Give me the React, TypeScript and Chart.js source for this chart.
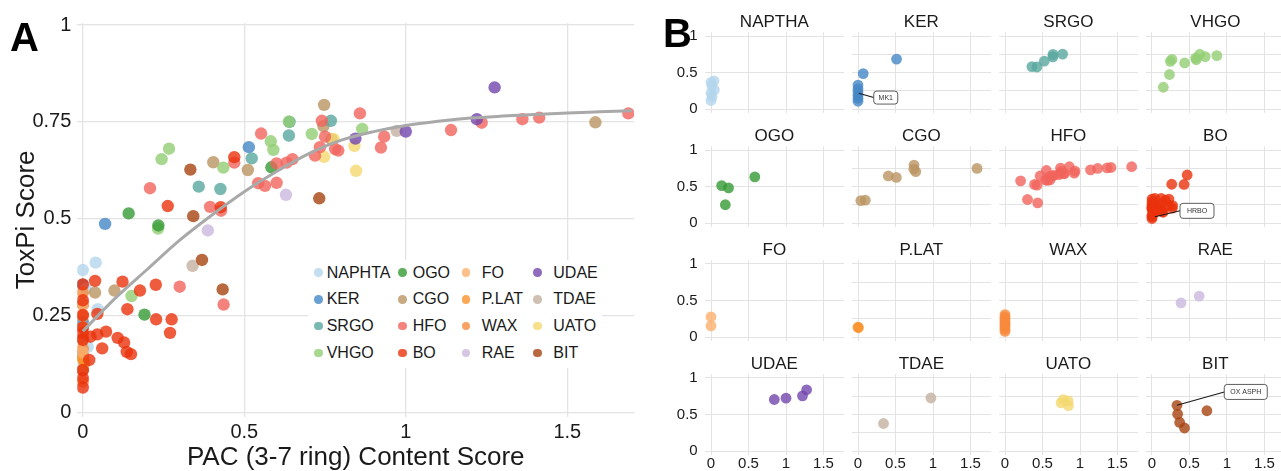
import React, { useEffect, useRef } from "react";
import { Chart, registerables } from "chart.js";
Chart.register(...registerables);

const FONT = "'Liberation Sans', Arial, Helvetica, sans-serif";
const TEXT = "#1a1a1a";
const GRID = "#e3e3e3";

// ---------- categories / colours ----------
const categories = ["NAPHTA", "KER", "SRGO", "VHGO", "OGO", "CGO", "HFO", "BO", "FO", "P.LAT", "WAX", "RAE", "UDAE", "TDAE", "UATO", "BIT"];
const facetTitles = ["NAPTHA", "KER", "SRGO", "VHGO", "OGO", "CGO", "HFO", "BO", "FO", "P.LAT", "WAX", "RAE", "UDAE", "TDAE", "UATO", "BIT"];
const pointColors = [
  "rgba(179,214,236,0.8)", "rgba(69,135,197,0.8)", "rgba(89,166,159,0.8)", "rgba(146,206,116,0.8)",
  "rgba(53,154,53,0.8)", "rgba(186,149,99,0.8)", "rgba(241,100,92,0.8)", "rgba(234,50,13,0.8)",
  "rgba(252,176,109,0.8)", "rgba(250,146,44,0.8)", "rgba(248,138,60,0.8)", "rgba(204,184,224,0.8)",
  "rgba(115,70,174,0.8)", "rgba(195,176,160,0.8)", "rgba(244,216,111,0.8)", "rgba(168,68,15,0.8)",
];

// ---------- data (PAC score x, ToxPi score y) ----------
const naphtaX = [0, 0.04, 0.046, 0.01, 0, 0.015, 0];
const naphtaY = [0.368, 0.387, 0.267, 0.32, 0.22, 0.17, 0.12];
const kerX = [0.514, 0.069, 0, 0, 0, 0, 0, 0];
const kerY = [0.685, 0.487, 0.33, 0.28, 0.235, 0.19, 0.15, 0.11];
const srgoX = [0.359, 0.426, 0.523, 0.638, 0.64, 0.768];
const srgoY = [0.583, 0.577, 0.656, 0.715, 0.75, 0.753];
const vhgoX = [0.151, 0.233, 0.244, 0.267, 0.435, 0.582, 0.59, 0.638, 0.709, 0.865];
const vhgoY = [0.301, 0.475, 0.654, 0.681, 0.632, 0.7, 0.678, 0.751, 0.719, 0.732];
const ogoX = [0.142, 0.234, 0.191, 0.584];
const ogoY = [0.514, 0.483, 0.253, 0.633];
const cgoX = [0.038, 0.098, 0.404, 0.511, 0.747, 0.745, 0.77, 1.587];
const cgoY = [0.31, 0.315, 0.646, 0.626, 0.794, 0.739, 0.705, 0.749];
const hfoX = [1.689, 1.413, 1.361, 1.235, 1.14, 0.933, 0.923, 0.858, 0.74, 0.75, 0.734, 0.719, 0.781, 0.791, 0.552, 0.6, 0.631, 0.649, 0.543, 0.564, 0.6, 0.469, 0.208, 0.394, 0.3, 0.436, 0.428];
const hfoY = [0.772, 0.761, 0.757, 0.748, 0.729, 0.712, 0.684, 0.772, 0.753, 0.712, 0.685, 0.663, 0.68, 0.676, 0.72, 0.643, 0.645, 0.654, 0.592, 0.585, 0.593, 0.645, 0.579, 0.531, 0.325, 0.279, 0.521];
const boX = [0.469, 0.263, 0.427, 0, 0, 0, 0, 0, 0, 0, 0, 0, 0.02, 0.038, 0.045, 0.123, 0.177, 0.226, 0.138, 0.227, 0.275, 0.27, 0.024, 0.045, 0.072, 0.108, 0.128, 0.136, 0.149, 0.06];
const boY = [0.659, 0.533, 0.53, 0.331, 0.29, 0.252, 0.22, 0.205, 0.188, 0.11, 0.089, 0.065, 0.136, 0.34, 0.255, 0.338, 0.315, 0.33, 0.267, 0.241, 0.241, 0.206, 0.196, 0.202, 0.209, 0.193, 0.181, 0.157, 0.151, 0.166];
const foX = [0, 0];
const foY = [0.278, 0.155];
const platX = [0, 0.005];
const platY = [0.14, 0.13];
const waxX = [0, 0, 0, 0, 0, 0, 0, 0, 0];
const waxY = [0.31, 0.28, 0.25, 0.22, 0.19, 0.165, 0.14, 0.11, 0.08];
const raeX = [0.387, 0.629];
const raeY = [0.47, 0.562];
const udaeX = [1.275, 1.22, 1.0, 0.844];
const udaeY = [0.839, 0.757, 0.725, 0.707];
const tdaeX = [0.34, 0.972];
const tdaeY = [0.379, 0.727];
const uatoX = [0.841, 0.846, 0.747, 0.776];
const uatoY = [0.688, 0.624, 0.66, 0.706];
const bitX = [0.333, 0.342, 0.369, 0.433, 0.732];
const bitY = [0.627, 0.507, 0.394, 0.318, 0.553];

const seriesX = [naphtaX, kerX, srgoX, vhgoX, ogoX, cgoX, hfoX, boX, foX, platX, waxX, raeX, udaeX, tdaeX, uatoX, bitX];
const seriesY = [naphtaY, kerY, srgoY, vhgoY, ogoY, cgoY, hfoY, boY, foY, platY, waxY, raeY, udaeY, tdaeY, uatoY, bitY];

// smooth fitted curve
const fitX = [0, 0.1, 0.2, 0.3, 0.4, 0.5, 0.6, 0.7, 0.8, 0.9, 1.0, 1.1, 1.2, 1.3, 1.4, 1.5, 1.6, 1.7];
const fitY = [0.21, 0.295, 0.37, 0.445, 0.51, 0.57, 0.622, 0.668, 0.703, 0.725, 0.741, 0.752, 0.76, 0.765, 0.769, 0.773, 0.776, 0.779];

// ticks
const xTicksA = [0, 0.5, 1, 1.5];
const xLabelsA = ["0", "0.5", "1", "1.5"];
const yTicksA = [0, 0.25, 0.5, 0.75, 1];
const yLabelsA = ["0", "0.25", "0.5", "0.75", "1"];
const xTicksB = [0, 0.5, 1, 1.5];
const xLabelsB = ["0", "0.5", "1", "1.5"];
const yTicksB = [0, 0.25, 0.5, 0.75, 1];
const yLabelsB = ["0", "", "0.5", "", "1"];

// draw order in panel A, bottom -> top
const drawOrder = [1, 0, 10, 9, 8, 5, 13, 2, 3, 4, 11, 15, 14, 6, 7, 12];

// labelled samples in panel B
const notes = [
  { facet: 1, text: "MK1", ax: 0.01, ay: 0.22, bx: 0.37, by: 0.16, w: 24, h: 13 },
  { facet: 7, text: "HRBO", ax: 0.04, ay: 0.09, bx: 0.6, by: 0.17, w: 34, h: 15 },
  { facet: 15, text: "OX ASPH", ax: 0.333, ay: 0.627, bx: 1.25, by: 0.81, w: 43, h: 15 },
];

// ---------- geometry ----------
const A_GEO = { x0: 82.8, ux: 323, xmin: -0.017, xmax: 1.707, y0: 412.7, uy: 387.7, ymin: -0.01, ymax: 1.005 };
const B_GEO = { x0: 711, colStep: 147, ux: 75, xmin: -0.0845, xmax: 1.7735, y1: 36, rowStep: 114, uy: 73.3, ymin: -0.05, ymax: 1.05 };

type Box = { left: number; top: number; width: number; height: number };

function labelFor(ticks: number[], labels: string[]) {
  return (v: any) => {
    const k = ticks.indexOf(Number(v));
    return k >= 0 ? labels[k] : "";
  };
}

function CanvasChart({ box, make }: { box: Box; make: (c: HTMLCanvasElement) => Chart }) {
  const ref = useRef<HTMLCanvasElement>(null);
  useEffect(() => {
    const chart = make(ref.current as HTMLCanvasElement);
    return () => chart.destroy();
  }, []);
  return (
    <canvas
      ref={ref}
      width={box.width}
      height={box.height}
      style={{ position: "absolute", left: box.left, top: box.top, width: box.width, height: box.height }}
    />
  );
}

const notePlugin = {
  id: "noteBox",
  afterDatasetsDraw(chart: any, _args: any, opts: any) {
    const note = opts && opts.note;
    if (!note) return;
    const { ctx } = chart;
    const xs = chart.scales.x;
    const ys = chart.scales.y;
    const px = xs.getPixelForValue(note.ax);
    const py = ys.getPixelForValue(note.ay);
    const bx = xs.getPixelForValue(note.bx);
    const by = ys.getPixelForValue(note.by);
    ctx.save();
    ctx.strokeStyle = "#1a1a1a";
    ctx.lineWidth = 1.1;
    ctx.beginPath();
    ctx.moveTo(px, py);
    ctx.lineTo(bx - note.w / 2, by);
    ctx.stroke();
    ctx.beginPath();
    if ((ctx as any).roundRect) (ctx as any).roundRect(bx - note.w / 2, by - note.h / 2, note.w, note.h, 3);
    else ctx.rect(bx - note.w / 2, by - note.h / 2, note.w, note.h);
    ctx.fillStyle = "#ffffff";
    ctx.fill();
    ctx.lineWidth = 0.8;
    ctx.strokeStyle = "#333";
    ctx.stroke();
    ctx.fillStyle = "#333";
    ctx.font = `7px ${FONT}`;
    ctx.textAlign = "center";
    ctx.textBaseline = "middle";
    ctx.fillText(note.text, bx, by + 0.5);
    ctx.restore();
  },
};

// ---------- panel A ----------
const A_BOX: Box = { left: 0, top: 0, width: 650, height: 471 };

function makeA(canvas: HTMLCanvasElement) {
  const g = A_GEO;
  const left = g.x0 + g.xmin * g.ux;
  const right = g.x0 + g.xmax * g.ux;
  const top = g.y0 - g.ymax * g.uy;
  const bottom = g.y0 - g.ymin * g.uy;
  const datasets: any[] = [
    {
      label: "fit",
      data: fitX.map((x, i) => ({ x, y: fitY[i] })),
      showLine: true,
      borderColor: "#a9a9a9",
      borderWidth: 3,
      pointRadius: 0,
      fill: false,
      cubicInterpolationMode: "monotone",
      order: -1,
    },
  ];
  drawOrder.forEach((ci, pos) => {
    datasets.push({
      label: categories[ci],
      data: seriesX[ci].map((x, i) => ({ x, y: seriesY[ci][i] })),
      backgroundColor: pointColors[ci],
      borderWidth: 0,
      pointRadius: 6.2,
      pointHoverRadius: 6.2,
      order: drawOrder.length - pos,
    });
  });
  return new Chart(canvas, {
    type: "scatter",
    data: { datasets },
    options: {
      animation: false,
      responsive: false,
      devicePixelRatio: 1,
      events: [],
      layout: { padding: { left: 0, top, right: A_BOX.width - right, bottom: 0 } },
      plugins: { legend: { display: false }, tooltip: { enabled: false } },
      scales: {
        x: {
          type: "linear",
          min: g.xmin,
          max: g.xmax,
          afterBuildTicks: (s: any) => { s.ticks = xTicksA.map((v) => ({ value: v })); },
          afterFit: (s: any) => { s.height = A_BOX.height - bottom; },
          grid: { color: GRID, lineWidth: 1.3, drawTicks: false },
          border: { display: false },
          ticks: { padding: 4.4, color: TEXT, font: { size: 20, family: FONT }, callback: labelFor(xTicksA, xLabelsA) },
          title: { display: true, text: "PAC (3-7 ring) Content Score", color: TEXT, font: { size: 26, family: FONT, lineHeight: 1 }, padding: { top: 0, bottom: 0 } },
        },
        y: {
          type: "linear",
          min: g.ymin,
          max: g.ymax,
          afterBuildTicks: (s: any) => { s.ticks = yTicksA.map((v) => ({ value: v })); },
          afterFit: (s: any) => { s.width = left; },
          grid: { color: GRID, lineWidth: 1.3, drawTicks: false },
          border: { display: false },
          ticks: { padding: 6, color: TEXT, font: { size: 20, family: FONT }, callback: labelFor(yTicksA, yLabelsA) },
          title: { display: true, text: "ToxPi Score", color: TEXT, font: { size: 26, family: FONT, lineHeight: 1 }, padding: { top: 14, bottom: 0 } },
        },
      },
    } as any,
  });
}

// ---------- panel B ----------
function panelGeometry(i: number) {
  const g = B_GEO;
  const col = i % 4;
  const row = Math.floor(i / 4);
  const x0 = g.x0 + g.colStep * col;
  const y1 = g.y1 + g.rowStep * row;
  const pLeft = x0 + g.xmin * g.ux;
  const pRight = x0 + g.xmax * g.ux;
  const pTop = y1 - (g.ymax - 1) * g.uy;
  const pBottom = y1 + (1 - g.ymin) * g.uy;
  const cLeft = Math.floor(pLeft - 40);
  const cTop = Math.floor(pTop - 32);
  const cRight = Math.ceil(pRight + 14);
  const cBottom = Math.ceil(pBottom + 22);
  return {
    col, row, pLeft, pRight, pTop, pBottom,
    box: { left: cLeft, top: cTop, width: cRight - cLeft, height: cBottom - cTop },
  };
}

function makeB(i: number) {
  return (canvas: HTMLCanvasElement) => {
    const g = B_GEO;
    const pg = panelGeometry(i);
    const titleH = 10 + 17 * 1.2;
    const note = notes.find((n) => n.facet === i) || null;
    return new Chart(canvas, {
      type: "scatter",
      data: {
        datasets: [
          {
            label: facetTitles[i],
            data: seriesX[i].map((x, k) => ({ x, y: seriesY[i][k] })),
            backgroundColor: pointColors[i],
            borderWidth: 0,
            pointRadius: 5.4,
            pointHoverRadius: 5.4,
          },
        ],
      },
      plugins: [notePlugin],
      options: {
        animation: false,
        responsive: false,
        devicePixelRatio: 1,
        events: [],
        layout: {
          padding: {
            left: 0,
            top: pg.pTop - pg.box.top - titleH,
            right: pg.box.left + pg.box.width - pg.pRight,
            bottom: 0,
          },
        },
        plugins: {
          legend: { display: false },
          tooltip: { enabled: false },
          title: {
            display: true,
            fullSize: false,
            text: facetTitles[i],
            color: TEXT,
            font: { size: 17, family: FONT, weight: "normal", lineHeight: 1.2 },
            padding: { top: 10, bottom: 0 },
          },
          noteBox: { note },
        },
        scales: {
          x: {
            type: "linear",
            min: g.xmin,
            max: g.xmax,
            afterBuildTicks: (s: any) => { s.ticks = xTicksB.map((v) => ({ value: v })); },
            afterFit: (s: any) => { s.height = pg.box.top + pg.box.height - pg.pBottom; },
            grid: { color: GRID, lineWidth: 1, drawTicks: false },
            border: { display: false },
            ticks: { display: pg.row === 3, padding: 0, color: TEXT, font: { size: 15, family: FONT }, callback: labelFor(xTicksB, xLabelsB) },
          },
          y: {
            type: "linear",
            min: g.ymin,
            max: g.ymax,
            afterBuildTicks: (s: any) => { s.ticks = yTicksB.map((v) => ({ value: v })); },
            afterFit: (s: any) => { s.width = pg.pLeft - pg.box.left; },
            grid: { color: GRID, lineWidth: 1, drawTicks: false },
            border: { display: false },
            ticks: {
              display: pg.col === 0,
              padding: 7,
              color: TEXT,
              font: { size: 15, family: FONT },
              callback: labelFor(yTicksB, yLabelsB),
            },
          },
        },
      } as any,
    });
  };
}

// legend layout (panel A)
const legendDotX = [318.3, 402.7, 466, 537.3];
const legendTextX = [326.7, 412.7, 481.7, 553.3];
const legendRowY = [272.7, 299.4, 326.1, 352.8];

export default function App() {
  useEffect(() => {
    document.body.style.margin = "0";
  }, []);
  return (
    <div style={{ position: "absolute", left: 0, top: 0, width: 1281, height: 471, background: "#fff", overflow: "hidden", fontFamily: FONT, color: TEXT }}>
      <CanvasChart box={A_BOX} make={makeA} />
      <div style={{ position: "absolute", left: 10, top: 17, fontSize: 40, fontWeight: "bold", lineHeight: 1, color: "#000" }}>A</div>
      <div style={{ position: "absolute", left: 308, top: 260, width: 294, height: 108, background: "#fff" }} />
      {categories.map((c, i) => {
        const col = Math.floor(i / 4);
        const row = i % 4;
        return (
          <React.Fragment key={c}>
            <div style={{ position: "absolute", left: legendDotX[col] - 4.3, top: legendRowY[row] - 4.3, width: 8.6, height: 8.6, borderRadius: "50%", background: pointColors[i] }} />
            <div style={{ position: "absolute", left: legendTextX[col], top: legendRowY[row] - 10, height: 20, lineHeight: "20px", fontSize: 16, whiteSpace: "nowrap" }}>{c}</div>
          </React.Fragment>
        );
      })}
      {facetTitles.map((t, i) => (
        <CanvasChart key={t} box={panelGeometry(i).box} make={makeB(i)} />
      ))}
      <div style={{ position: "absolute", left: 663, top: 13, fontSize: 40, fontWeight: "bold", lineHeight: 1, color: "#000" }}>B</div>
    </div>
  );
}
